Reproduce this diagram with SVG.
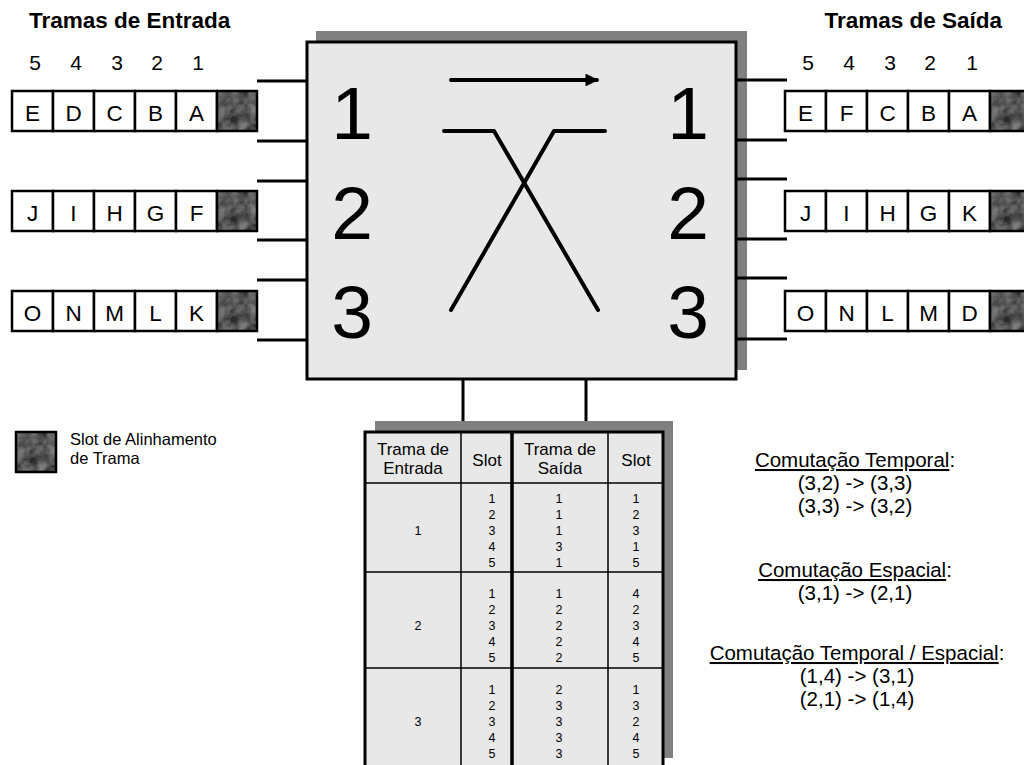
<svg xmlns="http://www.w3.org/2000/svg" width="1024" height="765" viewBox="0 0 1024 765">
<style>
text{font-family:"Liberation Sans",Arial,sans-serif;fill:#000}
.title{font-size:22.5px;font-weight:bold}
.num{font-size:21px;text-anchor:middle}
.let{font-size:22.5px;text-anchor:middle}
.cell{fill:#fff;stroke:#000;stroke-width:2.5}
.lead{stroke:#000;stroke-width:3;fill:none}
.big{font-size:75px;text-anchor:middle}
.hdr{font-size:17px;text-anchor:middle}
.dat{font-size:12.5px;text-anchor:middle}
.com{font-size:20.5px;text-anchor:middle}
.leg{font-size:16.5px}
.u{text-decoration:underline}
.grid{stroke:#000;stroke-width:1.5;fill:none}
</style>
<defs>
<filter id="tex" x="0" y="0" width="100%" height="100%">
<feTurbulence type="fractalNoise" baseFrequency="0.09" numOctaves="3" seed="4"/>
<feColorMatrix type="matrix" values="0 0 0 0 0.3  0 0 0 0 0.3  0 0 0 0 0.3  0.9 0.9 0 0 -0.6"/>
<feComposite in2="SourceGraphic" operator="in"/>
<feMerge><feMergeNode in="SourceGraphic"/><feMergeNode/></feMerge>
</filter>
<marker id="arr" viewBox="0 0 10 10" refX="9" refY="5" markerWidth="3.2" markerHeight="3.2" orient="auto" markerUnits="strokeWidth">
<path d="M0,0 L10,5 L0,10 z" fill="#000"/>
</marker>
<g id="dark"><rect width="40" height="40" fill="#2b2b2b" filter="url(#tex)"/><rect width="40" height="40" fill="none" stroke="#000" stroke-width="2.5"/></g>
</defs>
<rect width="1024" height="765" fill="#fff"/>

<g id="titles">
<text class="title" x="29" y="28">Tramas de Entrada</text>
<text class="title" x="1002" y="28" text-anchor="end">Tramas de Saída</text>
<text class="num" x="35" y="70">5</text><text class="num" x="76" y="70">4</text><text class="num" x="117" y="70">3</text><text class="num" x="157" y="70">2</text><text class="num" x="198" y="70">1</text>
<text class="num" x="808" y="70">5</text><text class="num" x="849" y="70">4</text><text class="num" x="890" y="70">3</text><text class="num" x="930" y="70">2</text><text class="num" x="972" y="70">1</text>
</g>

<g id="in-frame-1">
<rect class="cell" x="12" y="91" width="41" height="40"/><rect class="cell" x="53" y="91" width="41" height="40"/><rect class="cell" x="94" y="91" width="41" height="40"/><rect class="cell" x="135" y="91" width="41" height="40"/><rect class="cell" x="176" y="91" width="41" height="40"/>
<use href="#dark" x="217" y="91"/>
<text class="let" x="32.5" y="121">E</text><text class="let" x="73.5" y="121">D</text><text class="let" x="114.5" y="121">C</text><text class="let" x="155.5" y="121">B</text><text class="let" x="196.5" y="121">A</text>
</g>
<g id="in-frame-2">
<rect class="cell" x="12" y="191" width="41" height="40"/><rect class="cell" x="53" y="191" width="41" height="40"/><rect class="cell" x="94" y="191" width="41" height="40"/><rect class="cell" x="135" y="191" width="41" height="40"/><rect class="cell" x="176" y="191" width="41" height="40"/>
<use href="#dark" x="217" y="191"/>
<text class="let" x="32.5" y="221">J</text><text class="let" x="73.5" y="221">I</text><text class="let" x="114.5" y="221">H</text><text class="let" x="155.5" y="221">G</text><text class="let" x="196.5" y="221">F</text>
</g>
<g id="in-frame-3">
<rect class="cell" x="12" y="291" width="41" height="40"/><rect class="cell" x="53" y="291" width="41" height="40"/><rect class="cell" x="94" y="291" width="41" height="40"/><rect class="cell" x="135" y="291" width="41" height="40"/><rect class="cell" x="176" y="291" width="41" height="40"/>
<use href="#dark" x="217" y="291"/>
<text class="let" x="32.5" y="321">O</text><text class="let" x="73.5" y="321">N</text><text class="let" x="114.5" y="321">M</text><text class="let" x="155.5" y="321">L</text><text class="let" x="196.5" y="321">K</text>
</g>

<g id="out-frame-1">
<rect class="cell" x="785" y="91" width="41" height="40"/><rect class="cell" x="826" y="91" width="41" height="40"/><rect class="cell" x="867" y="91" width="41" height="40"/><rect class="cell" x="908" y="91" width="41" height="40"/><rect class="cell" x="949" y="91" width="41" height="40"/>
<use href="#dark" x="990" y="91"/>
<text class="let" x="805.5" y="121">E</text><text class="let" x="846.5" y="121">F</text><text class="let" x="887.5" y="121">C</text><text class="let" x="928.5" y="121">B</text><text class="let" x="969.5" y="121">A</text>
</g>
<g id="out-frame-2">
<rect class="cell" x="785" y="191" width="41" height="40"/><rect class="cell" x="826" y="191" width="41" height="40"/><rect class="cell" x="867" y="191" width="41" height="40"/><rect class="cell" x="908" y="191" width="41" height="40"/><rect class="cell" x="949" y="191" width="41" height="40"/>
<use href="#dark" x="990" y="191"/>
<text class="let" x="805.5" y="221">J</text><text class="let" x="846.5" y="221">I</text><text class="let" x="887.5" y="221">H</text><text class="let" x="928.5" y="221">G</text><text class="let" x="969.5" y="221">K</text>
</g>
<g id="out-frame-3">
<rect class="cell" x="785" y="291" width="41" height="40"/><rect class="cell" x="826" y="291" width="41" height="40"/><rect class="cell" x="867" y="291" width="41" height="40"/><rect class="cell" x="908" y="291" width="41" height="40"/><rect class="cell" x="949" y="291" width="41" height="40"/>
<use href="#dark" x="990" y="291"/>
<text class="let" x="805.5" y="321">O</text><text class="let" x="846.5" y="321">N</text><text class="let" x="887.5" y="321">L</text><text class="let" x="928.5" y="321">M</text><text class="let" x="969.5" y="321">D</text>
</g>

<g id="switch">
<rect x="316" y="31" width="431" height="339" fill="#808080"/>
<rect x="307" y="42" width="429" height="337" fill="#e8e8e8" stroke="#000" stroke-width="3"/>
<text class="big" x="352" y="139">1</text><text class="big" x="352" y="239">2</text><text class="big" x="352" y="338">3</text>
<text class="big" x="688" y="139">1</text><text class="big" x="688" y="239">2</text><text class="big" x="688" y="338">3</text>
<line x1="451" y1="80" x2="597" y2="80" stroke="#000" stroke-width="4" stroke-linecap="round" marker-end="url(#arr)"/>
<polyline points="444,131 494,131 598,310" fill="none" stroke="#000" stroke-width="4" stroke-linecap="round" stroke-linejoin="round"/>
<polyline points="605,131 554,131 451,310" fill="none" stroke="#000" stroke-width="4" stroke-linecap="round" stroke-linejoin="round"/>
</g>

<g id="connectors">
<line class="lead" x1="257" y1="81" x2="307" y2="81"/><line class="lead" x1="257" y1="141" x2="307" y2="141"/>
<line class="lead" x1="257" y1="181" x2="307" y2="181"/><line class="lead" x1="257" y1="240" x2="307" y2="240"/>
<line class="lead" x1="257" y1="280" x2="307" y2="280"/><line class="lead" x1="257" y1="340" x2="307" y2="340"/>
<line class="lead" x1="736" y1="80" x2="787" y2="80"/><line class="lead" x1="736" y1="140" x2="787" y2="140"/>
<line class="lead" x1="736" y1="179" x2="787" y2="179"/><line class="lead" x1="736" y1="239" x2="787" y2="239"/>
<line class="lead" x1="736" y1="278" x2="787" y2="278"/><line class="lead" x1="736" y1="339" x2="787" y2="339"/>
<line class="lead" x1="463" y1="379" x2="463" y2="432"/><line class="lead" x1="586" y1="379" x2="586" y2="432"/>
</g>

<g id="table">
<rect x="375" y="421" width="298" height="337" fill="#808080"/>
<rect x="365" y="432" width="298" height="340" fill="#e8e8e8" stroke="#000" stroke-width="3"/>
<line class="grid" x1="365" y1="483" x2="663" y2="483"/>
<line class="grid" x1="365" y1="572" x2="663" y2="572"/>
<line class="grid" x1="365" y1="668" x2="663" y2="668"/>
<line class="grid" x1="461" y1="432" x2="461" y2="770"/>
<line class="grid" x1="608" y1="432" x2="608" y2="770"/>
<line x1="512" y1="432" x2="512" y2="770" stroke="#000" stroke-width="3.5"/>
<text class="hdr" x="413" y="455">Trama de</text><text class="hdr" x="413" y="474">Entrada</text>
<text class="hdr" x="487" y="466">Slot</text>
<text class="hdr" x="560" y="455">Trama de</text><text class="hdr" x="560" y="474">Saída</text>
<text class="hdr" x="636" y="466">Slot</text>
<text class="dat" x="418" y="535">1</text>
<text class="dat" x="418" y="630">2</text>
<text class="dat" x="418" y="726">3</text>
<text class="dat" x="492" y="503">1</text><text class="dat" x="492" y="519">2</text><text class="dat" x="492" y="535">3</text><text class="dat" x="492" y="551">4</text><text class="dat" x="492" y="567">5</text>
<text class="dat" x="559" y="503">1</text><text class="dat" x="559" y="519">1</text><text class="dat" x="559" y="535">1</text><text class="dat" x="559" y="551">3</text><text class="dat" x="559" y="567">1</text>
<text class="dat" x="636" y="503">1</text><text class="dat" x="636" y="519">2</text><text class="dat" x="636" y="535">3</text><text class="dat" x="636" y="551">1</text><text class="dat" x="636" y="567">5</text>
<text class="dat" x="492" y="598">1</text><text class="dat" x="492" y="614">2</text><text class="dat" x="492" y="630">3</text><text class="dat" x="492" y="646">4</text><text class="dat" x="492" y="662">5</text>
<text class="dat" x="559" y="598">1</text><text class="dat" x="559" y="614">2</text><text class="dat" x="559" y="630">2</text><text class="dat" x="559" y="646">2</text><text class="dat" x="559" y="662">2</text>
<text class="dat" x="636" y="598">4</text><text class="dat" x="636" y="614">2</text><text class="dat" x="636" y="630">3</text><text class="dat" x="636" y="646">4</text><text class="dat" x="636" y="662">5</text>
<text class="dat" x="492" y="694">1</text><text class="dat" x="492" y="710">2</text><text class="dat" x="492" y="726">3</text><text class="dat" x="492" y="742">4</text><text class="dat" x="492" y="758">5</text>
<text class="dat" x="559" y="694">2</text><text class="dat" x="559" y="710">3</text><text class="dat" x="559" y="726">3</text><text class="dat" x="559" y="742">3</text><text class="dat" x="559" y="758">3</text>
<text class="dat" x="636" y="694">1</text><text class="dat" x="636" y="710">3</text><text class="dat" x="636" y="726">2</text><text class="dat" x="636" y="742">4</text><text class="dat" x="636" y="758">5</text>
</g>

<g id="legend">
<use href="#dark" x="16" y="432"/>
<text class="leg" x="70" y="445">Slot de Alinhamento</text>
<text class="leg" x="70" y="464">de Trama</text>
</g>

<g id="notes">
<text class="com" x="855" y="467"><tspan class="u">Comutação Temporal</tspan>:</text>
<text class="com" x="855" y="490">(3,2) -&gt; (3,3)</text>
<text class="com" x="855" y="513">(3,3) -&gt; (3,2)</text>
<text class="com" x="855" y="577"><tspan class="u">Comutação Espacial</tspan>:</text>
<text class="com" x="855" y="600">(3,1) -&gt; (2,1)</text>
<text class="com" x="857" y="660"><tspan class="u">Comutação Temporal / Espacial</tspan>:</text>
<text class="com" x="857" y="683">(1,4) -&gt; (3,1)</text>
<text class="com" x="857" y="706">(2,1) -&gt; (1,4)</text>
</g>
</svg>
